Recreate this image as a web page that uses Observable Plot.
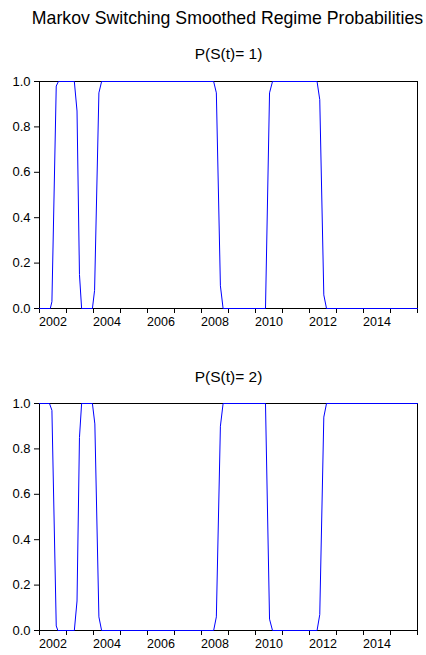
<!DOCTYPE html>
<html>
<head>
<meta charset="utf-8">
<script src="https://cdn.jsdelivr.net/npm/d3@7"></script>
<script src="https://cdn.jsdelivr.net/npm/@observablehq/plot@0.6"></script>
<style>
  html, body { margin: 0; padding: 0; background: #fff; }
  #wrap { position: relative; width: 426px; height: 655px; overflow: hidden; font-family: "Liberation Sans", Arial, sans-serif; color: #000; }
  #title { position: absolute; left: 29px; width: 397px; top: 8px; text-align: center; white-space: nowrap; font-size: 17.7px; line-height: 20px; }
  svg { position: absolute; left: 0; }
</style>
</head>
<body>
<div id="wrap">
  <div id="title">Markov Switching Smoothed Regime Probabilities</div>
</div>
<script>
// ---- data (vertices of the monthly series, decimal years) ----
const titleText = "Markov Switching Smoothed Regime Probabilities";
const panel1Label = "P(S(t)= 1)";
const panel2Label = "P(S(t)= 2)";

const regime1Years = [2002.00, 2002.40, 2002.46, 2002.62, 2002.70, 2003.29, 2003.39, 2003.48, 2003.56,
                      2003.96, 2004.04, 2004.20, 2004.30, 2008.45, 2008.55, 2008.70, 2008.80,
                      2010.37, 2010.52, 2010.63, 2012.28, 2012.38, 2012.53, 2012.63, 2016.00];
const regime1Prob  = [0.00, 0.00, 0.03, 0.98, 1.00, 1.00, 0.87, 0.15, 0.00,
                      0.00, 0.08, 0.95, 1.00, 1.00, 0.95, 0.10, 0.00,
                      0.00, 0.95, 1.00, 1.00, 0.92, 0.06, 0.00, 0.00];

const regime2Years = [2002.00, 2002.37, 2002.46, 2002.62, 2002.68, 2003.29, 2003.39, 2003.48, 2003.56,
                      2003.96, 2004.05, 2004.20, 2004.30, 2008.45, 2008.55, 2008.70, 2008.80,
                      2010.37, 2010.52, 2010.63, 2012.28, 2012.38, 2012.53, 2012.63, 2016.00];
const regime2Prob  = [1.00, 1.00, 0.97, 0.02, 0.00, 0.00, 0.13, 0.85, 1.00,
                      1.00, 0.91, 0.06, 0.00, 0.00, 0.06, 0.90, 1.00,
                      1.00, 0.05, 0.00, 0.00, 0.07, 0.94, 1.00, 1.00];

const yTickValues = [0.0, 0.2, 0.4, 0.6, 0.8, 1.0];
const yearTickValues = [2002, 2003, 2004, 2005, 2006, 2007, 2008, 2009, 2010, 2011, 2012, 2013, 2014, 2015, 2016];
const yearLabels = [2002, 2004, 2006, 2008, 2010, 2012, 2014];
const xDomain = [2002, 2016];

function panel(xs, ys, label, opts) {
  const data = xs.map((x, i) => ({year: x, p: ys[i]}));
  const chart = Plot.plot({
    width: 426,
    height: opts.height,
    marginLeft: 39,
    marginRight: 9,
    marginTop: opts.mTop,
    marginBottom: opts.mBottom,
    style: {fontFamily: "'Liberation Sans', Arial, sans-serif", fontSize: "13px", color: "#000", background: "#fff", overflow: "visible"},
    x: {type: "linear", domain: xDomain, label: null},
    y: {domain: [0, 1], label: null},
    marks: [
      Plot.frame({stroke: "#000", strokeWidth: 1}),
      Plot.axisY({ticks: yTickValues, tickFormat: d3.format(".1f"), tickSize: 5, tickPadding: 4, fontSize: 13, label: null}),
      Plot.axisX({ticks: yearTickValues, tickFormat: () => "", tickSize: 5, label: null}),
      Plot.axisX({ticks: yearLabels.map(y => y + 0.5), tickFormat: d => String(Math.floor(d)), tickSize: 0, tickPadding: 9, fontSize: 12.5, label: null}),
      Plot.line(data, {x: "year", y: "p", stroke: "#0000ff", strokeWidth: 1}),
      Plot.text([label], {frameAnchor: "top", lineAnchor: "bottom", dy: opts.dy, fontSize: 15.5})
    ]
  });
  chart.style.top = opts.top + "px";
  return chart;
}

const wrap = document.getElementById("wrap");
document.getElementById("title").textContent = titleText;
wrap.appendChild(panel(regime1Years, regime1Prob, panel1Label, {top: 35, height: 300, mTop: 46, mBottom: 27, dy: -23}));
wrap.appendChild(panel(regime2Years, regime2Prob, panel2Label, {top: 345, height: 310, mTop: 58, mBottom: 25, dy: -22}));
</script>
</body>
</html>
